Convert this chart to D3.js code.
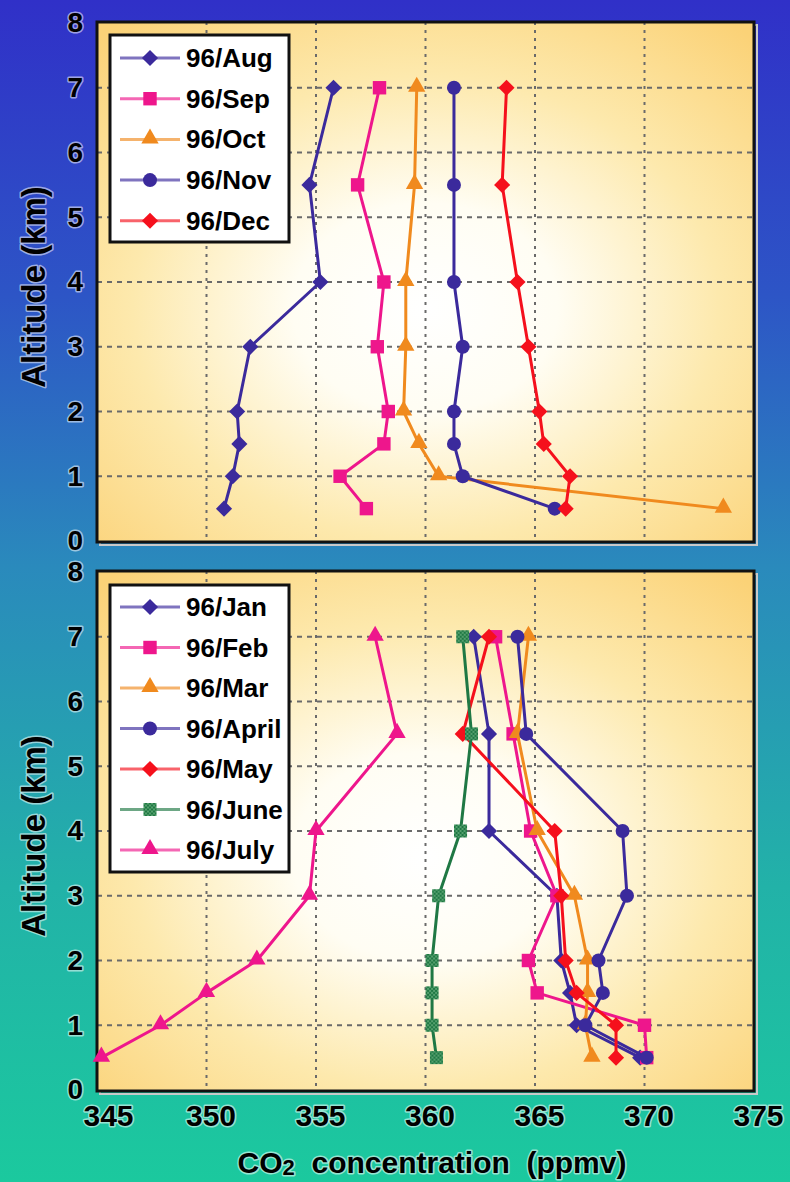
<!DOCTYPE html>
<html>
<head>
<meta charset="utf-8">
<script src="https://cdn.jsdelivr.net/npm/d3@7"></script>
<style>
  body { margin: 0; }
  svg { display: block; font-family: Arial, "Liberation Sans", sans-serif; }
</style>
</head>
<body>
<div id="chart"></div>
<script>
// altitudes (km) of the flight levels, shared by every profile
const altitudes = [0.5, 1, 1.5, 2, 3, 4, 5.5, 7];
const xTicks = [345, 350, 355, 360, 365, 370, 375];
const yTicks = [0, 1, 2, 3, 4, 5, 6, 7, 8];

const topLabels = ["96/Aug", "96/Sep", "96/Oct", "96/Nov", "96/Dec"];
const bottomLabels = ["96/Jan", "96/Feb", "96/Mar", "96/April", "96/May", "96/June", "96/July"];

// CO2 (ppmv) per altitude
const aug = [350.8, 351.2, 351.5, 351.4, 352.0, 355.2, 354.7, 355.8];
const sep = [357.3, 356.1, 358.1, 358.3, 357.8, 358.1, 356.9, 357.9];
const oct = [373.6, 360.6, 359.7, 359.0, 359.1, 359.1, 359.5, 359.6];
const nov = [365.9, 361.7, 361.3, 361.3, 361.7, 361.3, 361.3, 361.3];
const dec = [366.4, 366.6, 365.4, 365.2, 364.7, 364.2, 363.5, 363.7];

const jan = [369.8, 366.9, 366.6, 366.2, 366.0, 362.9, 362.9, 362.2];
const feb = [370.1, 370.0, 365.1, 364.7, 366.0, 364.8, 364.0, 363.2];
const mar = [367.6, 367.3, 367.4, 367.4, 366.8, 365.1, 364.2, 364.7];
const apr = [370.1, 367.3, 368.1, 367.9, 369.2, 369.0, 364.6, 364.2];
const may = [368.7, 368.7, 366.9, 366.4, 366.2, 365.9, 361.7, 362.9];
const jun = [360.5, 360.3, 360.3, 360.3, 360.6, 361.6, 362.1, 361.7];
const jul = [345.2, 347.9, 350.0, 352.3, 354.7, 355.0, 358.7, 357.7];

const PURPLE = "#3b2a9c", PINK = "#ee168c", ORANGE = "#f08a1e", RED = "#f5101c", GREEN = "#1f7844";

const topSeries = [
  { name: topLabels[0], values: aug, color: PURPLE, marker: "diamond" },
  { name: topLabels[1], values: sep, color: PINK, marker: "square" },
  { name: topLabels[2], values: oct, color: ORANGE, marker: "triangle" },
  { name: topLabels[3], values: nov, color: PURPLE, marker: "circle" },
  { name: topLabels[4], values: dec, color: RED, marker: "diamond" }
];
const bottomSeries = [
  { name: bottomLabels[0], values: jan, color: PURPLE, marker: "diamond" },
  { name: bottomLabels[1], values: feb, color: PINK, marker: "square" },
  { name: bottomLabels[2], values: mar, color: ORANGE, marker: "triangle" },
  { name: bottomLabels[3], values: apr, color: PURPLE, marker: "circle" },
  { name: bottomLabels[4], values: may, color: RED, marker: "diamond" },
  { name: bottomLabels[5], values: jun, color: GREEN, marker: "hatch" },
  { name: bottomLabels[6], values: jul, color: PINK, marker: "triangle" }
];

const width = 790, height = 1182;
const svg = d3.select("#chart").append("svg")
  .attr("width", width).attr("height", height);

const defs = svg.append("defs");
const bg = defs.append("linearGradient").attr("id", "bg")
  .attr("x1", 0).attr("y1", 0).attr("x2", 0).attr("y2", 1);
[["0%", "#3030c8"], ["25%", "#2d55c6"], ["48%", "#2a8abc"], ["75%", "#22b2a8"], ["100%", "#1bc99e"]]
  .forEach(s => bg.append("stop").attr("offset", s[0]).attr("stop-color", s[1]));

const glow = defs.append("radialGradient").attr("id", "glow")
  .attr("cx", 0.5).attr("cy", 0.55).attr("r", 0.72);
[["0%", "#ffffff"], ["28%", "#fffdf3"], ["62%", "#fde9ad"], ["100%", "#fbd277"]]
  .forEach(s => glow.append("stop").attr("offset", s[0]).attr("stop-color", s[1]));

const hatch = defs.append("pattern").attr("id", "hatchFill")
  .attr("width", 4).attr("height", 4).attr("patternUnits", "userSpaceOnUse");
hatch.append("rect").attr("width", 4).attr("height", 4).attr("fill", GREEN);
hatch.append("path").attr("d", "M0,0L4,4M4,0L0,4").attr("stroke", "#5aa472").attr("stroke-width", 0.9);

svg.append("rect").attr("width", width).attr("height", height).attr("fill", "url(#bg)");

const x = d3.scaleLinear().domain([345, 375]).range([97, 754]);

function addMarker(g, type, color, cx, cy) {
  let s;
  if (type === "diamond") {
    s = g.append("path").attr("d", d3.symbol(d3.symbolSquare, 130)())
      .attr("transform", `translate(${cx},${cy}) rotate(45)`);
  } else if (type === "square") {
    s = g.append("path").attr("d", d3.symbol(d3.symbolSquare, 180)())
      .attr("transform", `translate(${cx},${cy})`);
  } else if (type === "hatch") {
    s = g.append("path").attr("d", d3.symbol(d3.symbolSquare, 170)())
      .attr("transform", `translate(${cx},${cy})`);
  } else if (type === "triangle") {
    s = g.append("path").attr("d", d3.symbol(d3.symbolTriangle, 130)())
      .attr("transform", `translate(${cx},${cy - 1})`);
  } else {
    s = g.append("circle").attr("cx", cx).attr("cy", cy).attr("r", 7);
  }
  s.attr("fill", type === "hatch" ? "url(#hatchFill)" : color);
}

function halo(sel) {
  sel.attr("stroke", "#ffffff").attr("stroke-width", 3).attr("stroke-opacity", 0.55)
    .attr("paint-order", "stroke").attr("stroke-linejoin", "round");
}

function drawPanel(series, top, bottom, legend) {
  const y = d3.scaleLinear().domain([0, 8]).range([bottom - 1, top + 1]);
  const g = svg.append("g");

  // plot background with shadow
  g.append("rect").attr("x", x(345) + 3).attr("y", top + 3)
    .attr("width", x(375) - x(345)).attr("height", bottom - top)
    .attr("fill", "none").attr("stroke", "#c9c9c9").attr("stroke-width", 2);
  g.append("rect").attr("x", x(345)).attr("y", top)
    .attr("width", x(375) - x(345)).attr("height", bottom - top)
    .attr("fill", "url(#glow)");

  // dashed grid
  g.append("g").selectAll("line").data(xTicks.slice(1, -1)).join("line")
    .attr("x1", d => x(d)).attr("x2", d => x(d)).attr("y1", top).attr("y2", bottom)
    .attr("stroke", "#6a6a6a").attr("stroke-width", 2).attr("stroke-dasharray", "3,5");
  g.append("g").selectAll("line").data(yTicks.slice(1, -1)).join("line")
    .attr("x1", x(345)).attr("x2", x(375)).attr("y1", d => y(d)).attr("y2", d => y(d))
    .attr("stroke", "#6a6a6a").attr("stroke-width", 2).attr("stroke-dasharray", "5,5");

  g.append("rect").attr("x", x(345)).attr("y", top)
    .attr("width", x(375) - x(345)).attr("height", bottom - top)
    .attr("fill", "none").attr("stroke", "#111").attr("stroke-width", 3);

  // y axis labels
  const yAxis = g.append("g").attr("transform", `translate(${x(345)},0)`)
    .call(d3.axisLeft(y).tickValues(yTicks).tickSize(0).tickPadding(14).tickFormat(d3.format("d")));
  yAxis.select(".domain").remove();
  yAxis.selectAll("text").attr("font-size", 28).attr("font-weight", "bold")
    .attr("fill", "#000").attr("font-family", "Arial, 'Liberation Sans', sans-serif").call(halo);

  g.append("text")
    .attr("transform", `translate(33,${(top + bottom) / 2 + 5}) rotate(-90)`)
    .attr("text-anchor", "middle").attr("dominant-baseline", "central")
    .attr("font-size", 33).attr("font-weight", "bold").text("Altitude (km)").call(halo);

  // profiles
  const line = d3.line().x(d => x(d[0])).y(d => y(d[1]));
  series.forEach(s => {
    const pts = s.values.map((v, i) => [v, altitudes[i]]);
    g.append("path").attr("d", line(pts)).attr("fill", "none")
      .attr("stroke", s.color).attr("stroke-width", 3).attr("stroke-linejoin", "round");
    const mg = g.append("g");
    pts.forEach(p => addMarker(mg, s.marker, s.color, x(p[0]), y(p[1])));
  });

  // legend
  const lg = g.append("g");
  lg.append("rect").attr("x", legend.x).attr("y", legend.y)
    .attr("width", legend.w).attr("height", legend.h)
    .attr("fill", "#fff").attr("stroke", "#111").attr("stroke-width", 3);
  series.forEach((s, i) => {
    const ly = legend.first + i * legend.step;
    lg.append("line").attr("x1", legend.x + 10).attr("x2", legend.x + 70)
      .attr("y1", ly).attr("y2", ly).attr("stroke", s.color)
      .attr("stroke-width", 3).attr("stroke-opacity", 0.65);
    addMarker(lg, s.marker, s.color, legend.x + 40, ly);
    lg.append("text").attr("x", legend.x + 76).attr("y", ly)
      .attr("dominant-baseline", "central").attr("font-size", 26)
      .attr("font-weight", "bold").attr("fill", "#000").text(s.name);
  });
  return y;
}

drawPanel(topSeries, 22, 542, { x: 110, y: 35, w: 179, h: 207, first: 58, step: 40.7 });
drawPanel(bottomSeries, 571, 1091, { x: 110, y: 585, w: 179, h: 287, first: 607, step: 40.5 });

// x axis below bottom panel
const xAxis = svg.append("g").attr("transform", "translate(4,1102)")
  .call(d3.axisBottom(x).tickValues(xTicks).tickSize(0).tickPadding(3).tickFormat(d3.format("d")));
xAxis.select(".domain").remove();
xAxis.selectAll("text").attr("font-size", 30).attr("font-weight", "bold")
  .attr("fill", "#000").attr("font-family", "Arial, 'Liberation Sans', sans-serif").call(halo)
  .attr("dx", d => d === 345 ? 7 : 0);

const title = svg.append("text").attr("x", 432).attr("y", 1173)
  .attr("text-anchor", "middle").attr("font-size", 30).attr("font-weight", "bold")
  .attr("xml:space", "preserve").call(halo);
title.append("tspan").text("CO");
title.append("tspan").attr("font-size", 22).attr("dy", 2).text("2");
title.append("tspan").attr("dy", -2).text("  concentration  (ppmv)");
</script>
</body>
</html>
